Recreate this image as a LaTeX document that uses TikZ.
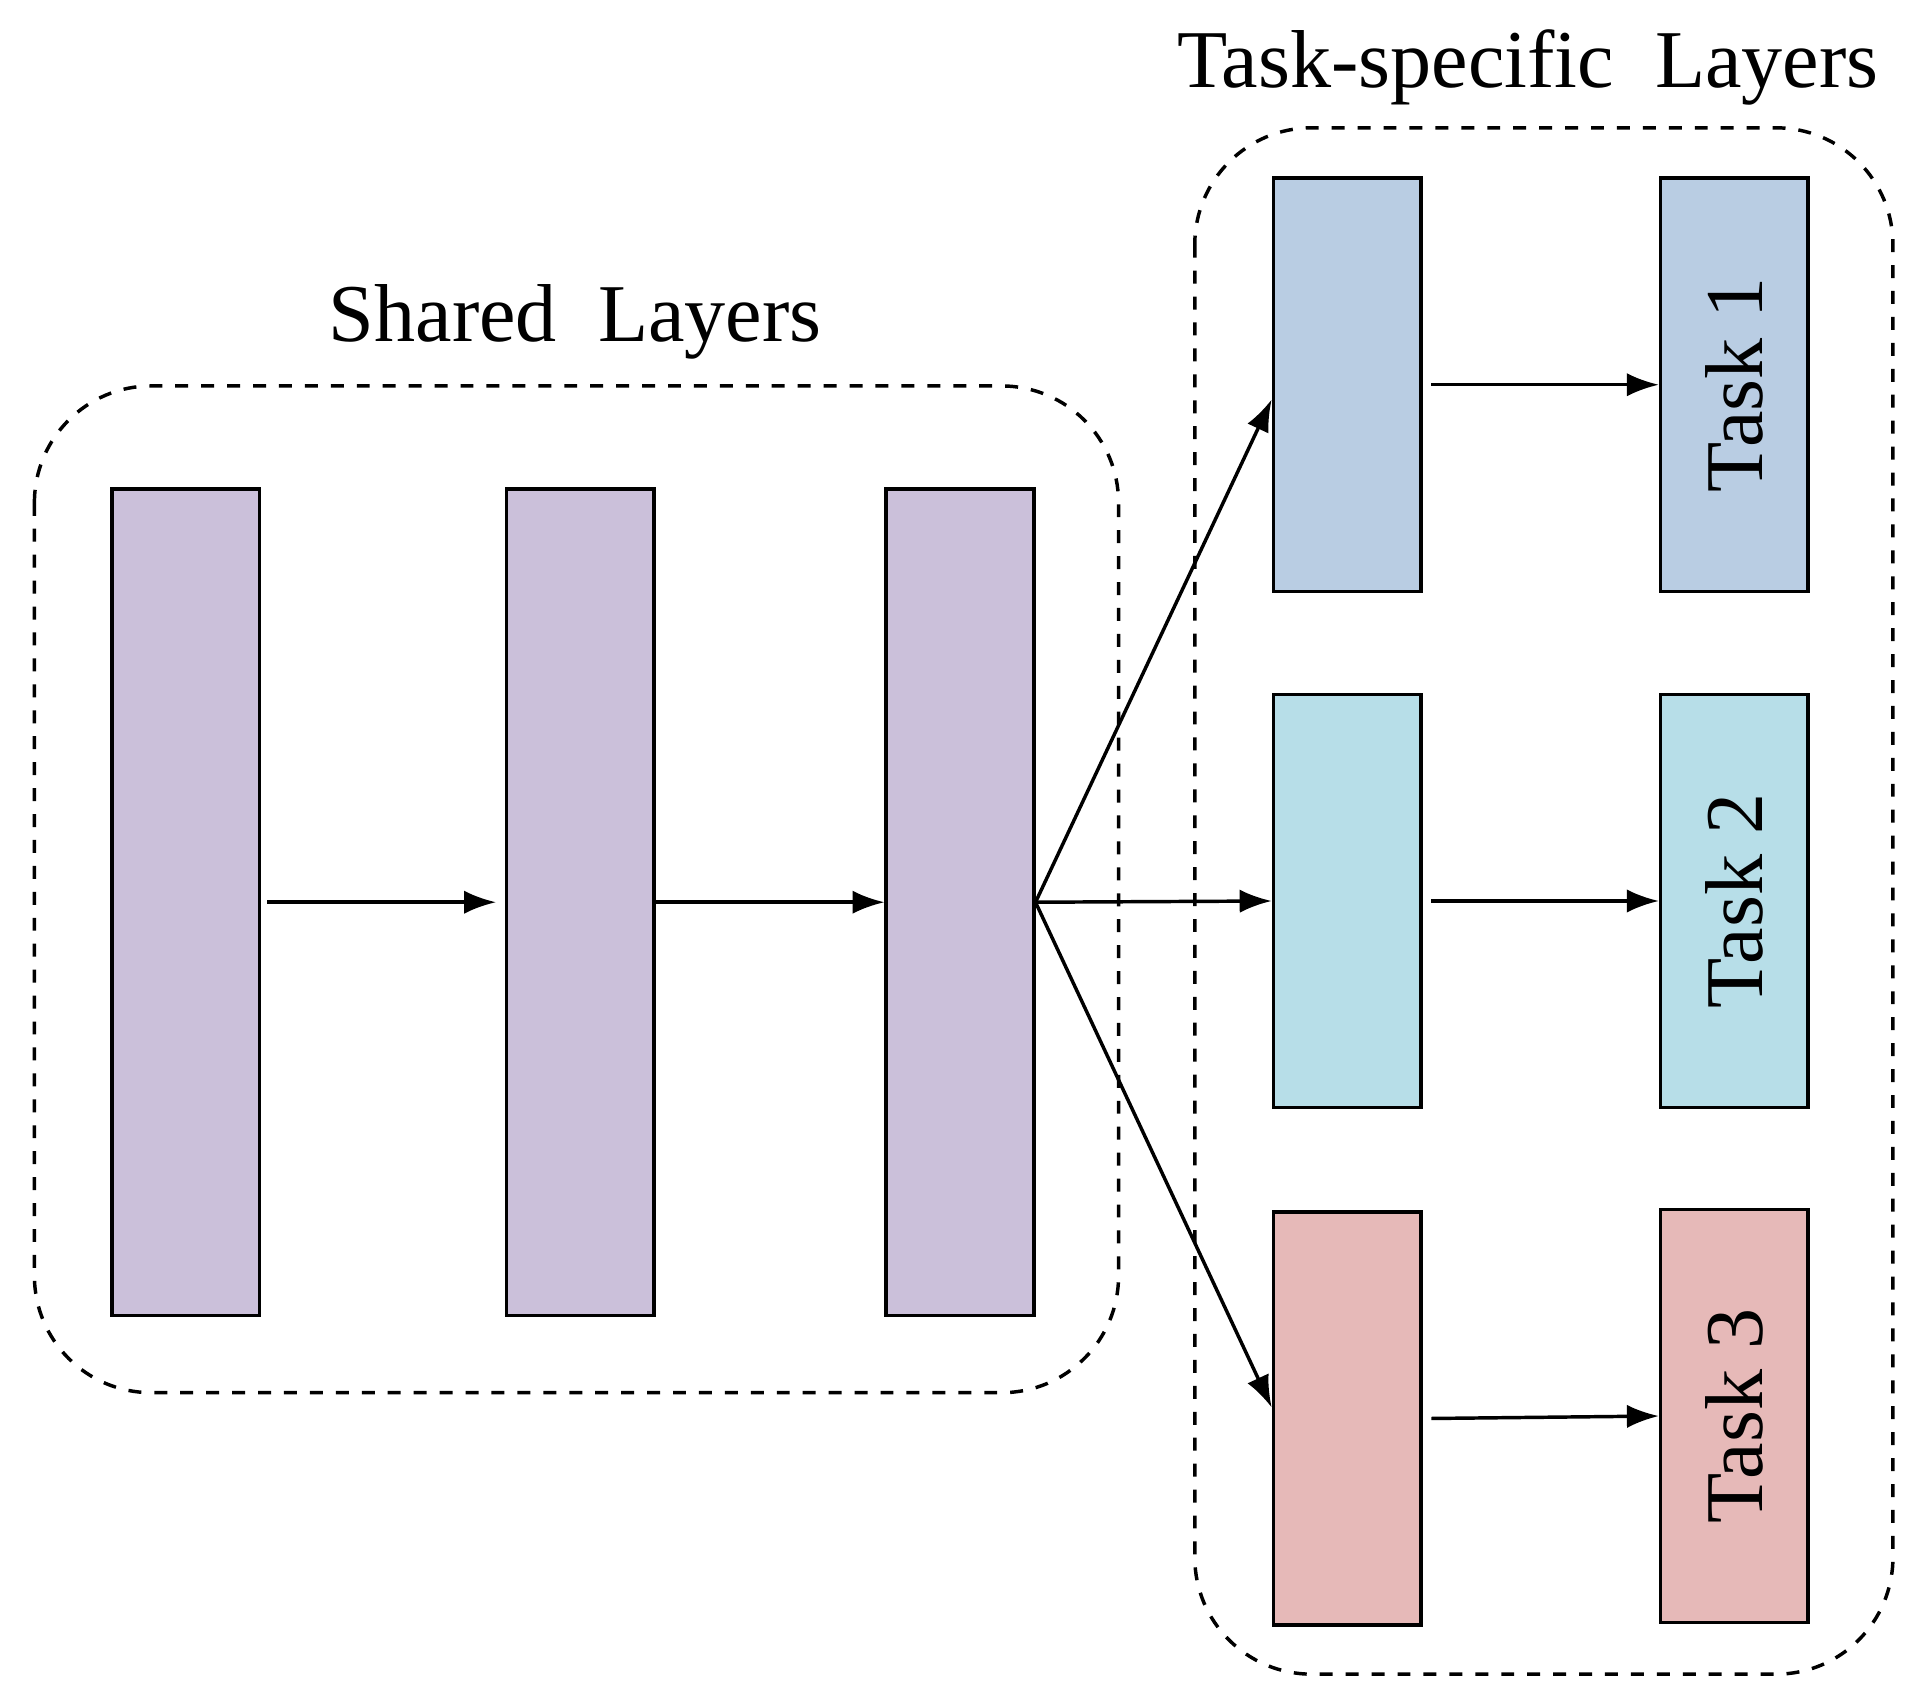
\documentclass[tikz,border=0pt]{standalone}
\usepackage{fontspec}
\setmainfont{Liberation Serif}
\usetikzlibrary{arrows.meta,positioning}
\definecolor{sharedc}{HTML}{CBC0DA}
\definecolor{taskA}{HTML}{B9CDE3}
\definecolor{taskB}{HTML}{B7DEE8}
\definecolor{taskC}{HTML}{E6B9B8}
\begin{document}
\begin{tikzpicture}[
	x=0.01cm, y=-0.01cm,
	layer/.style = {
		draw, thick,
		minimum width = 1.2cm,
		inner sep = 0pt,
	},
	group/.style = {draw, thick, dashed, rounded corners=0.95cm},
	arr/.style = {thick, -{Latex[length=2.6mm,width=1.9mm]}},
	title/.style = {font=\fontsize{19}{23}\selectfont},
]
\useasboundingbox (0,0) rectangle (1562,1385);

% dashed groups
\draw[group] (28,314) rectangle (910,1133);
\draw[group] (972,104) rectangle (1540,1362);
\node[title] (shtitle) at (468,262) {Shared\ \ Layers};
\node[title] (tstitle) at (1243,55) {Task-specific\ \ Layers};

% shared layers
\node[layer, fill=sharedc, minimum height=6.72cm] (s1) at (151,734) {};
\node[layer, fill=sharedc, minimum height=6.72cm] (s2) at (472,734) {};
\node[layer, fill=sharedc, minimum height=6.72cm] (s3) at (781,734) {};

% task-specific layers
\node[layer, fill=taskA, minimum height=3.36cm] (h1) at (1096,313) {};
\node[layer, fill=taskB, minimum height=3.36cm] (h2) at (1096,733) {};
\node[layer, fill=taskC, minimum height=3.36cm] (h3) at (1096,1154) {};
\node[layer, fill=taskA, minimum height=3.36cm] (t1) at (1411,313) {\rotatebox{90}{\fontsize{19}{23}\selectfont Task 1}};
\node[layer, fill=taskB, minimum height=3.36cm] (t2) at (1411,733) {\rotatebox{90}{\fontsize{19}{23}\selectfont Task 2}};
\node[layer, fill=taskC, minimum height=3.36cm] (t3) at (1411,1152) {\rotatebox{90}{\fontsize{19}{23}\selectfont Task 3}};

% connections
\draw[arr] ([xshift=0.5mm]s1.east) -- ([xshift=-0.7mm]s2.west);
\draw[arr] (s2.east) -- (s3.west);
\draw[arr] (s3.east) -- ([yshift=-1.2mm]h1.west);
\draw[arr] (s3.east) -- (h2.west);
\draw[arr] (s3.east) -- ([yshift=0.9mm]h3.west);
\foreach \i in {1,2,3}
	\draw[arr] ([xshift=0.7mm]h\i.east) -- (t\i.west);
\end{tikzpicture}
\end{document}
